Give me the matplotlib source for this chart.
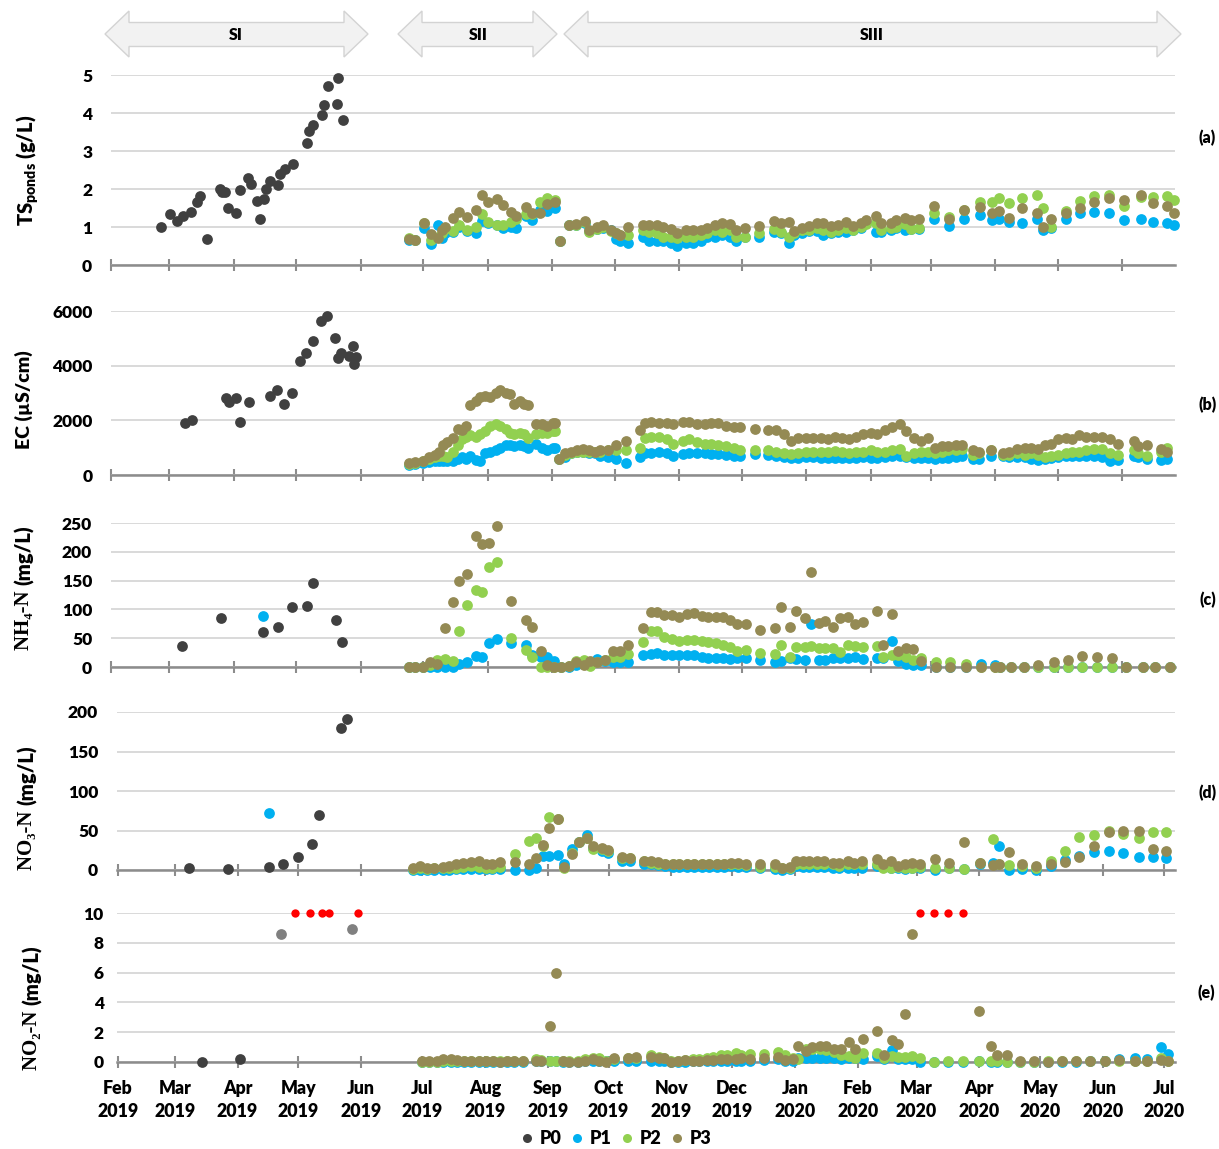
import numpy as np
import matplotlib
matplotlib.use("Agg")
import matplotlib.pyplot as plt
from matplotlib.patches import Polygon
from matplotlib.lines import Line2D

plt.rcParams['font.family'] = ['Lato', 'DejaVu Sans']
plt.rcParams['font.weight'] = 'bold'
plt.rcParams['mathtext.fontset'] = 'custom'
plt.rcParams['mathtext.rm'] = 'Lato:heavy'
plt.rcParams['mathtext.bf'] = 'Lato:heavy'

# ---------------- DATA (x = days since 2019-02-01) ----------------
start = np.datetime64('2019-02-01')
series_names = ['P0', 'P1', 'P2', 'P3']
colors = {'P0': '#404040', 'P1': '#00B0F0', 'P2': '#92D050', 'P3': '#948A54'}

# (a) TS ponds (g/L)
a_p0_day = [24.2, 28.4, 31.6, 34.4, 38.4, 41.2, 42.6, 46.2, 52.3, 53.4, 54.9, 56.1, 60.3, 62.1, 65.9, 67.3, 70.3,
            71.5, 73.5, 74.5, 76.4, 80.2, 81.3, 83.4, 87.4, 94.2, 95.2, 97.1, 101.2, 102.4, 104.1, 108.5, 109.2, 111.3]
a_p0 = [1.00, 1.35, 1.17, 1.30, 1.39, 1.65, 1.82, 0.69, 2.00, 1.91, 1.91, 1.51, 1.38, 1.97, 2.28, 2.12, 1.69,
        1.22, 1.74, 2.00, 2.22, 2.10, 2.39, 2.53, 2.66, 3.22, 3.53, 3.68, 3.95, 4.21, 4.71, 4.25, 4.92, 3.81]
a_day = [143.2, 146.1, 150.3, 153.7, 156.9, 159.0, 160.4, 164.2, 167.4, 171.2, 175.2, 178.4, 181.2, 185.4, 188.3,
         192.2, 194.5, 199.3, 202.5, 206.1, 209.3, 213.3, 216.0, 220.2, 223.4, 227.8, 229.7, 233.5, 236.4, 240.1,
         242.7, 244.6, 248.4, 255.6, 258.5, 262.4, 265.3, 269.1, 272.0, 276.3, 279.7, 283.5, 286.4, 290.2, 293.6,
         297.5, 300.3, 304.7, 311.4, 318.6, 322.0, 325.8, 328.2, 332.1, 335.4, 339.3, 342.1, 346.0, 349.4, 353.2,
         356.6, 360.4, 362.8, 367.4, 370.0, 374.6, 377.2, 381.5, 384.4, 388.3, 395.5, 402.7, 409.9, 417.6, 423.6,
         426.7, 431.5, 437.8, 445.0, 447.9, 451.5, 458.9, 465.6, 472.4, 479.6, 486.8, 495.0, 500.7, 507.5, 510.8]
a_p1 = [0.65, 0.66, 0.98, 0.56, 1.06, 0.70, 0.85, 0.88, 1.00, 0.90, 0.83, 1.15, 1.10, 1.05, 0.98, 1.00, 0.98, 1.29,
        1.18, 1.45, 1.42, 1.50, 0.62, 1.05, 1.06, 1.10, 0.90, 0.95, 0.98, 0.92,
        0.68, 0.62, 0.57, 0.73, 0.62, 0.62, 0.62, 0.57, 0.51, 0.59, 0.59, 0.64, 0.73, 0.73, 0.80, 0.73, 0.64, 0.73,
        0.73, 0.88, 0.83, 0.57, 0.80, 0.83, 0.90, 0.90, 0.80, 0.83, 0.88, 0.88, 0.92, 0.97, 1.10, 0.88, 0.88, 0.92,
        0.97, 0.92, 0.94, 0.94,
        1.20, 1.03, 1.21, 1.32, 1.18, 1.21, 1.14, 1.10, 1.21, 0.92, 0.97, 1.20, 1.36, 1.40, 1.38, 1.18, 1.20, 1.14,
        1.11, 1.05]
a_p2 = [0.70, 0.66, 1.10, 0.67, 0.75, 0.85, 0.95, 0.90, 1.05, 0.92, 0.99, 1.35, 1.13, 1.04, 1.04, 1.13, 1.20, 1.35,
        1.35, 1.67, 1.77, 1.72, 0.62, 1.05, 1.06, 1.12, 0.88, 0.95, 1.00, 0.90,
        0.83, 0.80, 0.80, 0.92, 0.88, 0.83, 0.75, 0.75, 0.71, 0.73, 0.73, 0.80, 0.83, 0.92, 0.88, 0.92, 0.75, 0.73,
        0.83, 0.94, 0.88, 0.75, 0.85, 0.92, 0.92, 0.97, 0.92, 0.88, 0.92, 0.97, 0.92, 1.01, 1.08, 1.11, 0.92, 0.97,
        1.01, 1.09, 0.94, 0.97,
        1.37, 1.26, 1.45, 1.67, 1.67, 1.76, 1.62, 1.76, 1.84, 1.50, 1.00, 1.42, 1.69, 1.81, 1.84, 1.55, 1.80, 1.79,
        1.81, 1.72]
a_p3 = [0.68, 0.66, 1.11, 0.81, 0.70, 0.92, 1.01, 1.23, 1.39, 1.27, 1.45, 1.84, 1.67, 1.74, 1.58, 1.39, 1.29, 1.53,
        1.36, 1.36, 1.61, 1.67, 0.62, 1.05, 1.08, 1.16, 0.92, 1.00, 1.05, 0.93,
        0.83, 0.80, 1.01, 1.05, 1.05, 1.05, 1.00, 0.94, 0.83, 0.92, 0.92, 0.92, 0.97, 1.05, 1.11, 1.08, 0.92, 0.97,
        1.03, 1.17, 1.11, 1.14, 0.90, 0.97, 1.03, 1.11, 1.11, 1.03, 1.05, 1.14, 1.03, 1.11, 1.18, 1.29, 1.11, 1.11,
        1.18, 1.25, 1.18, 1.20,
        1.55, 1.21, 1.45, 1.52, 1.38, 1.42, 1.24, 1.50, 1.36, 1.00, 1.20, 1.36, 1.50, 1.67, 1.77, 1.70, 1.84, 1.64,
        1.55, 1.36]

# (b) EC (uS/cm)
b_p0_day = [35.4, 38.8, 55.3, 56.5, 60.3, 62.1, 66.3, 76.2, 80.0, 83.0, 87.2, 91.0, 93.9, 97.1, 100.9, 103.9,
            107.7, 109.1, 110.4, 114.6, 116.1, 116.7, 117.6]
b_p0 = [1914, 2013, 2807, 2683, 2807, 1951, 2661, 2902, 3111, 2599, 2990, 4172, 4454, 4904, 5648, 5819, 5025,
        4293, 4476, 4366, 4732, 4063, 4308]
b_day = [143.2, 146.1, 149.9, 152.8, 155.6, 157.5, 159.4, 161.3, 164.2, 166.6, 168.9, 170.8, 172.7, 175.5, 177.4,
         179.9, 182.2, 185.0, 186.9, 189.8, 191.7, 193.6, 196.4, 198.3, 200.2, 204.0, 206.9, 209.7, 212.2, 213.5,
         215.4, 218.3, 221.1, 224.0, 226.8, 229.6, 232.5,
         235.0, 238.8, 242.7, 247.5, 254.2, 256.6, 259.5, 263.3, 267.2, 270.1, 274.9, 277.8, 281.6, 285.3, 288.3,
         291.7, 295.7, 299.6, 302.3, 309.5, 315.7, 319.5, 323.4, 326.8, 330.1, 334.0, 337.3, 341.2, 344.5, 347.9,
         351.3, 354.6, 358.0, 361.4, 365.2, 368.1, 371.9, 375.3, 379.1, 382.0, 385.9, 389.2, 392.6, 396.0, 399.3,
         402.2, 406.0, 408.9, 414.2, 417.1, 422.9, 428.6, 431.5, 435.4, 439.2, 442.1, 445.5, 448.8, 451.7, 455.1,
         458.9, 461.8, 465.2, 468.5, 472.4, 476.2, 480.1, 483.9, 491.6, 493.5, 497.8, 504.6, 507.5]
b_p1 = [380, 420, 450, 480, 500, 500, 520, 500, 500, 600, 650, 600, 700, 550, 500, 800, 850, 900, 1000, 1100, 1100,
        1050, 1100, 1050, 1000, 1150, 1000, 900, 1000, 1000, 600, 650, 800, 850, 850, 800, 800,
        700, 650, 600, 450, 650, 800, 820, 830, 800, 700, 780, 790, 800, 800, 780, 760, 740, 700, 700, 760,
        720, 700, 650, 620, 640, 650, 660, 640, 620, 640, 630, 620, 640, 660, 640, 620, 650, 680, 700, 650,
        640, 640, 620, 600, 620, 640, 650, 700, 600, 600, 700, 680, 660, 660, 650, 600, 560, 600, 620, 650,
        680, 700, 700, 680, 680, 650, 500, 550, 700, 650, 600, 550, 600]
b_p2 = [420, 450, 500, 600, 650, 680, 700, 650, 850, 1100, 1300, 1400, 1450, 1400, 1500, 1600, 1800, 1850, 1800,
        1700, 1550, 1500, 1550, 1500, 1350, 1500, 1550, 1550, 1600, 1600, 600, 750, 800, 850, 850, 850, 850,
        850, 900, 900, 900, 1000, 1350, 1400, 1400, 1300, 1150, 1250, 1300, 1200, 1150, 1150, 1100, 1050, 1000,
        900, 900, 900, 850, 800, 780, 800, 850, 850, 850, 850, 880, 850, 820, 850, 830, 900, 850, 850, 900,
        950, 700, 800, 850, 850, 800, 850, 900, 900, 950, 750, 800, 900, 750, 750, 800, 750, 800, 750, 650,
        700, 750, 800, 850, 850, 900, 950, 950, 800, 750, 900, 800, 700, 850, 1000]
b_p3 = [450, 480, 520, 650, 750, 850, 1100, 1200, 1350, 1700, 1650, 1800, 2550, 2700, 2850, 2900, 2850, 3000, 3100,
        3000, 2950, 2600, 2700, 2600, 2550, 1850, 1850, 1800, 1900, 1900, 600, 800, 850, 900, 950, 900, 850,
        900, 900, 1100, 1250, 1650, 1900, 1950, 1900, 1900, 1850, 1950, 1950, 1850, 1880, 1900, 1900, 1800,
        1750, 1750, 1700, 1650, 1650, 1500, 1250, 1350, 1350, 1350, 1350, 1300, 1400, 1350, 1300, 1400, 1500,
        1550, 1500, 1650, 1750, 1850, 1600, 1350, 1250, 1350, 1000, 1050, 1050, 1100, 1100, 900, 850, 900, 800,
        850, 950, 1000, 1000, 950, 1100, 1150, 1300, 1350, 1300, 1450, 1400, 1400, 1400, 1300, 1150, 1250, 1050,
        1100, 950, 850]

# (c) NH4-N (mg/L)
c_p0_day = [34.0, 53.0, 72.9, 80.2, 87.2, 94.2, 97.1, 108.1, 111.1]
c_p0 = [36, 85, 61, 70, 105, 106, 146, 82, 43]
c_p1_si_day = [72.9]
c_p1_si = [88]
c_day = [143.2, 146.1, 149.9, 153.3, 156.6, 160.4, 164.5, 167.4, 171.2, 175.5, 178.4, 181.6, 185.4, 192.2, 199.3,
         202.5, 206.5, 209.3, 213.1, 216.4, 220.2, 223.6, 227.4, 230.2, 233.4, 237.2, 241.0,
         244.6, 248.4, 255.6, 259.5, 262.4, 265.7, 269.6, 273.0, 276.8, 280.2, 284.0, 286.9, 290.7, 294.1, 297.5,
         300.8, 305.1, 311.9, 319.1, 322.0, 326.3, 329.2, 333.5, 336.4, 340.2, 343.1, 347.0, 350.3, 354.2, 357.5,
         361.4, 368.1, 371.0, 375.3, 378.2, 382.0, 385.4, 389.2, 396.4, 403.2, 410.9, 418.1, 424.8, 427.2, 432.5,
         438.7, 445.5, 453.1, 459.9, 466.6, 473.8, 481.0, 487.7, 495.9, 501.7, 508.9]
c_p1 = [0, 0, 0, 0, 0, 0, 0, 5, 8, 19, 18, 42, 48, 42, 38, 20, 18, 18, 10, 0, 0, 3, 6, 8, 14, 10, 8,
        8, 8, 20, 22, 25, 21, 20, 20, 21, 20, 18, 16, 16, 15, 14, 15, 16, 13, 8, 10, 16, 14, 12, 75, 12, 13, 15,
        15, 15, 17, 14, 15, 15, 45, 10, 5, 3, 3, 0, 0, 0, 5, 3, 0, 0, 0, 0, 0, 0, 0, 0, 0, 0, 0, 0, 0]
c_p2 = [0, 0, 0, 3, 12, 14, 10, 63, 107, 133, 130, 173, 183, 50, 29, 18, 0, 0, 0, 0, 2, 10, 12, 2, 8, 12, 18,
        18, 22, 44, 63, 62, 52, 48, 46, 47, 47, 45, 43, 42, 38, 35, 28, 30, 25, 22, 38, 17, 35, 35, 37, 33, 33,
        33, 26, 38, 37, 35, 37, 17, 20, 20, 18, 13, 15, 8, 8, 6, 0, 0, 0, 0, 0, 0, 0, 0, 0, 0, 0, 0, 0, 0, 0]
c_p3 = [0, 0, 0, 8, 5, 68, 112, 150, 162, 228, 214, 215, 244, 115, 82, 70, 28, 3, 0, 0, 2, 8, 4, 10, 8, 13, 28,
        28, 38, 67, 96, 95, 90, 90, 87, 92, 93, 88, 86, 87, 86, 81, 74, 75, 64, 67, 104, 70, 97, 85, 165, 77, 80,
        70, 85, 86, 75, 78, 97, 38, 92, 28, 33, 32, 10, 0, 0, 0, 0, 0, 0, 0, 0, 3, 8, 12, 19, 18, 15, 0, 0, 0, 0]

# (d) NO3-N (mg/L)
d_p0_day = [34.8, 54.3, 74.4, 81.6, 88.6, 95.9, 99.0, 110.1, 113.0]
d_p0 = [2, 1, 4, 8, 17, 33, 70, 180, 191]
d_p1_si_day = [74.4]
d_p1_si = [72]
d_day = [145.5, 148.9, 152.4, 155.9, 160.2, 163.1, 167.0, 170.3, 174.4, 178.3, 181.6, 184.6, 188.5, 195.7, 202.7,
         206.0, 209.9, 212.8, 217.1, 220.2, 223.9, 227.4, 231.4, 234.3, 238.6, 241.7,
         248.5, 252.4, 259.6, 263.1, 266.6, 270.0, 273.9, 276.8, 280.7, 284.0, 288.1, 291.4, 295.7, 298.8, 302.5,
         306.0, 309.9, 316.8, 324.2, 327.5, 331.4, 334.3, 337.8, 341.1, 345.0, 348.5, 352.8, 355.7, 360.0, 363.2,
         366.9, 374.3, 377.6, 381.5, 384.6, 388.5, 391.9, 395.8, 403.2, 410.0, 417.2, 425.4, 431.8, 434.7, 439.6,
         445.8, 452.9, 460.1, 467.3, 474.1, 481.5, 488.9, 495.6, 503.9, 510.4, 517.2]
d_p1 = [0, 0, 0, 0, 0, 0, 1, 1, 1, 1, 1, 1, 1, 0, 0, 3, 18, 18, 19, 8, 26, 36, 44, 28, 24, 21,
        12, 12, 8, 7, 6, 5, 4, 4, 4, 4, 4, 4, 4, 4, 5, 4, 4, 3, 1, 0, 1, 5, 4, 4, 4, 4, 3, 3, 3, 3,
        3, 5, 4, 3, 2, 1, 2, 2, 0, 2, 1, 8, 9, 31, 0, 1, 0, 5, 13, 18, 23, 24, 22, 17, 16, 15]
d_p2 = [1, 3, 1, 2, 2, 2, 3, 4, 5, 4, 3, 3, 4, 20, 37, 40, 30, 67, 65, 3, 22, 36, 41, 27, 26, 24,
        15, 15, 11, 9, 8, 7, 7, 7, 7, 7, 7, 7, 7, 7, 7, 7, 6, 4, 4, 2, 2, 7, 8, 8, 8, 7, 7, 5, 7, 7,
        7, 7, 3, 3, 4, 2, 3, 4, 3, 3, 1, 9, 39, 8, 6, 5, 3, 12, 24, 42, 44, 50, 46, 41, 48, 48]
d_p3 = [2, 5, 2, 3, 4, 5, 7, 9, 10, 11, 8, 8, 10, 10, 8, 15, 32, 53, 65, 4, 20, 36, 41, 30, 28, 25,
        17, 15, 12, 11, 10, 8, 7, 7, 7, 7, 7, 7, 8, 8, 9, 9, 7, 8, 7, 2, 4, 11, 11, 11, 11, 11, 9, 9, 11, 9,
        11, 14, 7, 12, 5, 7, 9, 8, 14, 9, 35, 9, 6, 7, 23, 7, 5, 8, 10, 16, 30, 48, 50, 50, 27, 24]

# (e) NO2-N (mg/L)
e_p0_day = [41.2, 60.1]
e_p0 = [0.02, 0.18]
e_p0_light_day = [80.2, 115.3]
e_p0_light = [8.59, 8.95]
e_offscale_day = [87.1, 94.5, 100.7, 104.2, 118.3, 395.8, 402.6, 409.4, 416.8]
e_offscale = [10, 10, 10, 10, 10, 10, 10, 10, 10]
e_day = [150.0, 153.4, 157.3, 160.2, 164.1, 167.4, 170.9, 174.2, 178.1, 181.6, 185.0, 188.5, 191.8, 195.3, 199.6,
         206.0, 208.9, 213.2, 216.3, 219.6, 222.6, 226.9, 230.4, 234.3, 237.2, 240.7, 244.6,
         251.5, 255.4, 262.8, 266.7, 269.6, 272.9, 276.4, 279.7, 283.6, 286.5, 290.4, 293.7, 297.3, 300.6, 304.7,
         307.6, 311.9, 318.7, 325.6, 329.1, 332.8, 335.7, 339.6, 342.5, 346.4, 349.5, 353.4, 356.7, 360.6, 363.5,
         367.4, 374.7, 377.8, 381.7, 384.6, 388.5, 391.9, 395.8, 402.6, 409.4, 416.8, 424.6, 430.8, 433.7, 438.8,
         444.9, 451.9, 458.7, 465.6, 472.8, 479.6, 486.8, 493.8, 502.0, 507.8, 514.7, 518.0]
e_p1 = [0.0, 0.0, 0.0, 0.02, 0.02, 0.02, 0.02, 0.0, 0.02, 0.02, 0.02, 0.0, 0.0, 0.0, 0.02, 0.05, 0.05, 0.05, 0.05,
        0.02, 0.0, 0.0, 0.05, 0.05, 0.05, 0.05, 0.1,
        0.1, 0.1, 0.1, 0.05, 0.05, 0.0, 0.0, 0.0, 0.05, 0.05, 0.05, 0.05, 0.1, 0.1, 0.1, 0.1, 0.1, 0.15, 0.2, 0.1,
        0.1, 0.3, 0.3, 0.3, 0.3, 0.3, 0.25, 0.2, 0.3, 0.3, 0.2, 0.4, 0.2, 0.8, 0.2, 0.2, 0.2, 0.0, 0.0, 0.0,
        0.0, 0.1, 0.0, 0.0, 0.0, 0.0, 0.0, 0.0, 0.0, 0.0, 0.05, 0.1, 0.2, 0.3, 0.2, 1.0, 0.55]
e_p2 = [0.0, 0.0, 0.0, 0.05, 0.05, 0.05, 0.05, 0.05, 0.1, 0.1, 0.1, 0.05, 0.05, 0.05, 0.05, 0.2, 0.15, 0.1, 0.1,
        0.1, 0.05, 0.05, 0.2, 0.25, 0.25, 0.1, 0.2,
        0.3, 0.3, 0.45, 0.35, 0.3, 0.1, 0.1, 0.15, 0.2, 0.2, 0.25, 0.35, 0.45, 0.5, 0.6, 0.5, 0.55, 0.55, 0.7, 0.5,
        0.3, 0.2, 0.9, 0.9, 0.85, 0.8, 0.7, 0.5, 0.4, 0.3, 0.6, 0.6, 0.3, 0.4, 0.35, 0.35, 0.4, 0.3, 0.0, 0.1,
        0.1, 0.1, 0.1, 0.05, 0.0, 0.0, 0.0, 0.05, 0.05, 0.05, 0.05, 0.05, 0.05, 0.05, 0.05, 0.3, 0.1]
e_p3 = [0.05, 0.05, 0.05, 0.2, 0.23, 0.15, 0.05, 0.1, 0.1, 0.05, 0.05, 0.0, 0.05, 0.05, 0.1, 0.1, 0.05, 2.4, 6.0,
        0.05, 0.0, 0.0, 0.1, 0.2, 0.1, 0.0, 0.3,
        0.3, 0.35, 0.35, 0.3, 0.25, 0.0, 0.1, 0.15, 0.1, 0.1, 0.15, 0.15, 0.2, 0.2, 0.2, 0.25, 0.2, 0.3, 0.35, 0.15,
        0.2, 1.05, 0.75, 1.0, 1.1, 1.05, 0.9, 0.85, 1.35, 0.85, 1.55, 2.1, 0.5, 1.5, 1.2, 3.2, 8.6, np.nan,
        np.nan, np.nan, np.nan, 3.45, 1.05, 0.5, 0.5, 0.1, 0.05, 0.0, 0.1, 0.1, 0.05, 0.05, 0.15, 0.1, 0.1,
        0.15, 0.1]

month_labels = ['Feb\n2019', 'Mar\n2019', 'Apr\n2019', 'May\n2019', 'Jun\n2019', 'Jul\n2019', 'Aug\n2019',
                'Sep\n2019', 'Oct\n2019', 'Nov\n2019', 'Dec\n2019', 'Jan\n2020', 'Feb\n2020', 'Mar\n2020',
                'Apr\n2020', 'May\n2020', 'Jun\n2020', 'Jul\n2020']
phase_labels = ['SI', 'SII', 'SIII']
panel_tags = ['(a)', '(b)', '(c)', '(d)', '(e)']

# ---------------- FIGURE ----------------
W, H = 1219, 1149
fig = plt.figure(figsize=(W / 100, H / 100), dpi=100)
TW = 'heavy'


def rect(l, r, t, b):
    return [l / W, 1 - b / H, (r - l) / W, (b - t) / H]


month_starts = np.arange('2019-02', '2020-08', dtype='datetime64[M]').astype('datetime64[D]')
month_days = (month_starts - start).astype(int)

GRID = '#d9d9d9'
AXC = '#8c8c8c'

specs = [
    (rect(111, 1175, 75, 265), (0, 511.3), (0, 5), np.arange(0, 6, 1), 13.5),
    (rect(111, 1175, 311, 475), (0, 511.3), (0, 6000), np.arange(0, 6001, 2000), 13.0),
    (rect(111, 1175, 523, 667), (0, 511.3), (0, 250), np.arange(0, 251, 50), 13.5),
    (rect(117, 1175, 712, 870), (-0.5, 521.5), (0, 200), np.arange(0, 201, 50), 13.5),
    (rect(117, 1175, 913, 1062), (-0.5, 521.5), (0, 10), np.arange(0, 11, 2), 9.5),
]
axes = []
for i, (r, xl, yl, yt, pad) in enumerate(specs):
    ax = fig.add_axes(r)
    ax.set_xlim(*xl)
    ax.set_ylim(*yl)
    ax.set_yticks(yt)
    ax.set_yticklabels([str(v) for v in yt], fontsize=12.5, fontweight=TW)
    ax.tick_params(axis='y', length=0, pad=pad)
    ax.set_xticks(month_days[month_days <= xl[1]])
    ax.tick_params(axis='x', direction='inout', length=9, width=1.5, color=AXC)
    ax.set_xticklabels([])
    for s in ['top', 'left', 'right']:
        ax.spines[s].set_visible(False)
    ax.spines['bottom'].set_color(AXC)
    ax.spines['bottom'].set_linewidth(1.8)
    ax.spines['bottom'].set_zorder(2)
    ax.grid(axis='y', color=GRID, lw=1.4, zorder=0)
    ax.set_axisbelow(True)
    ax.patch.set_alpha(0)
    axes.append(ax)

axes[4].set_xticklabels(month_labels[:len(axes[4].get_xticks())], fontsize=12.8, fontweight=TW,
                        linespacing=1.4)
axes[4].tick_params(axis='x', pad=8.5)

S = 60


def sc(ax, x, y, c, s=S):
    ax.scatter(np.asarray(x, float), np.asarray(y, float), s=s, color=c, linewidths=0, zorder=3, clip_on=False)


# (a)
sc(axes[0], a_p0_day, a_p0, colors['P0'])
sc(axes[0], a_day, a_p1, colors['P1'])
sc(axes[0], a_day, a_p2, colors['P2'])
sc(axes[0], a_day, a_p3, colors['P3'])
# (b)
sc(axes[1], b_p0_day, b_p0, colors['P0'])
sc(axes[1], b_day, b_p1, colors['P1'])
sc(axes[1], b_day, b_p2, colors['P2'])
sc(axes[1], b_day, b_p3, colors['P3'])
# (c)
sc(axes[2], c_p0_day, c_p0, colors['P0'])
sc(axes[2], c_p1_si_day, c_p1_si, colors['P1'])
sc(axes[2], c_day, c_p1, colors['P1'])
sc(axes[2], c_day, c_p2, colors['P2'])
sc(axes[2], c_day, c_p3, colors['P3'])
# (d)
sc(axes[3], d_p0_day, d_p0, colors['P0'])
sc(axes[3], d_p1_si_day, d_p1_si, colors['P1'])
sc(axes[3], d_day, d_p1, colors['P1'])
sc(axes[3], d_day, d_p2, colors['P2'])
sc(axes[3], d_day, d_p3, colors['P3'])
# (e)
sc(axes[4], e_p0_day, e_p0, colors['P0'])
sc(axes[4], e_p0_light_day, e_p0_light, '#808080')
sc(axes[4], e_day, e_p1, colors['P1'])
sc(axes[4], e_day, e_p2, colors['P2'])
sc(axes[4], e_day, e_p3, colors['P3'])
sc(axes[4], e_offscale_day, e_offscale, '#FF0000', s=36)

# ---------------- y labels ----------------
fig.text(28 / W, 1 - 170 / H, r'$\mathbf{TS_{ponds}}$ (g/L)', rotation=90, ha='center', va='center',
         fontsize=14.5, fontweight=TW)
fig.text(24 / W, 1 - 400 / H, 'EC (µS/cm)', rotation=90, ha='center', va='center', fontsize=14,
         fontweight=TW)


def split_label(x, ysplit, chem, unit):
    fig.text(x / W, 1 - ysplit / H, chem + ' ', rotation=90, rotation_mode='anchor', ha='right', va='center',
             fontsize=15, fontweight='bold', family=['Liberation Serif', 'DejaVu Serif'])
    fig.text(x / W, 1 - ysplit / H, unit, rotation=90, rotation_mode='anchor', ha='left', va='center',
             fontsize=14.5, fontweight=TW)


split_label(24, 585, 'NH\u2084-N', '(mg/L)')
split_label(27, 805, 'NO\u2083-N', '(mg/L)')
split_label(32, 1005, 'NO\u2082-N', '(mg/L)')

# panel tags
for tag, (x, y) in zip(panel_tags, [(1207, 138), (1208, 405), (1208, 600), (1208, 793), (1206, 993)]):
    fig.text(x / W, 1 - y / H, tag, ha='center', va='center', fontsize=11.5, fontweight=TW)

# ---------------- phase arrows ----------------
def darrow(x0, x1, text, tx):
    yt, yb, st, sb, yc, hl = 11, 57, 22.5, 46.5, 34, 24
    pts = [(x0, yc), (x0 + hl, yt), (x0 + hl, st), (x1 - hl, st), (x1 - hl, yt), (x1, yc),
           (x1 - hl, yb), (x1 - hl, sb), (x0 + hl, sb), (x0 + hl, yb)]
    pts = [(x / W, 1 - y / H) for x, y in pts]
    fig.patches.append(Polygon(pts, closed=True, transform=fig.transFigure, facecolor='#f2f2f2',
                               edgecolor='#d3d3d3', lw=1.0))
    fig.text(tx / W, 1 - 35 / H, text, ha='center', va='center', fontsize=11.5, fontweight=TW)


darrow(105, 368, phase_labels[0], 236)
darrow(398, 557, phase_labels[1], 478)
darrow(564, 1181, phase_labels[2], 872)

# ---------------- legend ----------------
handles = [Line2D([], [], marker='o', ls='', color=colors[n], markersize=6.5, markeredgewidth=0)
           for n in series_names]
fig.legend(handles, series_names, loc='center', bbox_to_anchor=(616 / W, 1 - 1139 / H), ncol=4, frameon=False,
           prop={'weight': TW, 'size': 13}, handletextpad=0.35, columnspacing=0.5, handlelength=0.7,
           borderaxespad=0)

fig.savefig('out.png', dpi=100)
